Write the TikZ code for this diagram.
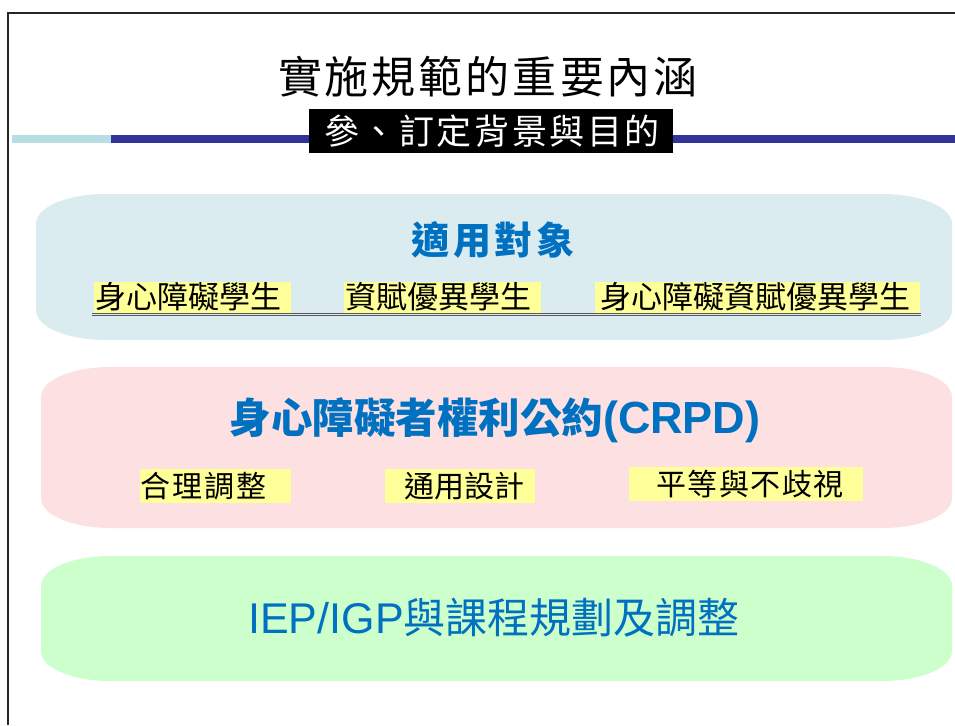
\documentclass[tikz,border=0pt]{standalone}
\usepackage{fontspec}
\newfontfamily\cjk{Noto Sans CJK TC}
\newfontfamily\lat{Liberation Sans}
\definecolor{boxone}{RGB}{218,236,240}
\definecolor{boxtwo}{RGB}{253,224,226}
\definecolor{boxthree}{RGB}{204,255,204}
\definecolor{txtblue}{RGB}{0,112,192}
\definecolor{hlyellow}{RGB}{255,255,153}
\definecolor{barcyan}{RGB}{183,222,228}
\definecolor{barblue}{RGB}{51,51,153}
\newcommand\softbox[5]{%
  \fill[#1] (#2+70,#3) -- (#4-70,#3) .. controls (#4-31,#3) and (#4,#3+13) .. (#4,#3+30)
    -- (#4,#5-30) .. controls (#4,#5-13) and (#4-31,#5) .. (#4-70,#5)
    -- (#2+70,#5) .. controls (#2+31,#5) and (#2,#5-13) .. (#2,#5-30)
    -- (#2,#3+30) .. controls (#2,#3+13) and (#2+31,#3) .. cycle;}
\tikzset{
  txt/.style={inner sep=0pt, anchor=center},
  hl/.style={fill=hlyellow, inner sep=0pt, anchor=north west},
  itemtxt/.style={inner sep=0pt, anchor=west, font=\cjk\fontsize{31}{31}\selectfont},
  itemtxtb/.style={inner sep=0pt, anchor=west, font=\cjk\fontsize{30}{30}\selectfont},
}
\begin{document}
\begin{tikzpicture}[x=1pt,y=-1pt]
\useasboundingbox (0,0) rectangle (955,725);
\fill[white] (0,0) rectangle (955,725);
% frame
\draw[line width=2.5pt, black!85] (8,725) -- (8,13) -- (955,13);
% bar
\fill[barcyan] (12,135) rectangle (111,143);
\fill[barblue] (111,135) rectangle (955,143);
% title
\node[txt] (title) at (488,77) {\cjk\fontsize{44}{44}\selectfont 實\kern3pt施\kern3pt規\kern3pt範\kern3pt的\kern3pt重\kern3pt要\kern3pt內\kern3pt涵};
\node[fill=black, inner sep=0pt, minimum width=364, minimum height=44, anchor=north west] (subbox) at (309,109) {};
\node[txt, text=white] (sub) at (492,131) {\cjk\fontsize{35}{35}\selectfont 參\kern2.5pt、\kern2.5pt訂\kern2.5pt定\kern2.5pt背\kern2.5pt景\kern2.5pt與\kern2.5pt目\kern2.5pt的};
% box 1
\softbox{boxone}{36}{194}{952}{340}
\node[txt, text=txtblue] (t1) at (493,240) {\cjk\bfseries\fontsize{38}{38}\selectfont 適\kern3.5pt用\kern3.5pt對\kern3.5pt象};
\node[hl, minimum width=197, minimum height=31] (h1) at (94,282) {};
\node[hl, minimum width=197, minimum height=31] (h2) at (344,282) {};
\node[hl, minimum width=325, minimum height=31] (h3) at (595,282) {};
\node[itemtxt] (a1) at (95,297) {身心障礙學生};
\node[itemtxt] (a2) at (345,297) {資賦優異學生};
\node[itemtxt] (a3) at (600,297) {身心障礙資賦優異學生};
\coordinate (ul1) at (92,313);
\coordinate (ul2) at (921,313);
\draw[line width=0.7pt, black!65] (ul1) -- (ul2);
\draw[line width=0.7pt, black!65] ([yshift=-2.3pt]ul1) -- ([yshift=-2.3pt]ul2);
% box 2
\softbox{boxtwo}{41}{367}{952}{528}
\node[txt, text=txtblue] (t2) at (495,420) {\cjk\bfseries\fontsize{41.5}{42}\selectfont 身心障礙者權利公約\lat\fontsize{45}{45}\selectfont (CRPD)};
\node[hl, minimum width=151, minimum height=34] (h4) at (140,469) {};
\node[hl, minimum width=150, minimum height=34] (h5) at (385,469) {};
\node[hl, minimum width=234, minimum height=34] (h6) at (629,467) {};
\node[itemtxtb] (b1) at (140,486) {合\kern2pt理\kern2pt調\kern2pt整};
\node[itemtxtb] (b2) at (404,486) {通用設計};
\node[itemtxtb] (b3) at (656,484) {平\kern1.5pt等\kern1.5pt與\kern1.5pt不\kern1.5pt歧\kern1.5pt視};
% box 3
\softbox{boxthree}{41}{556}{952}{681}
\node[txt, text=txtblue] (t3) at (494,618) {\lat\fontsize{43}{43}\selectfont IEP/IGP\cjk\fontsize{42}{42}\selectfont 與課程規劃及調整};
\end{tikzpicture}
\end{document}
